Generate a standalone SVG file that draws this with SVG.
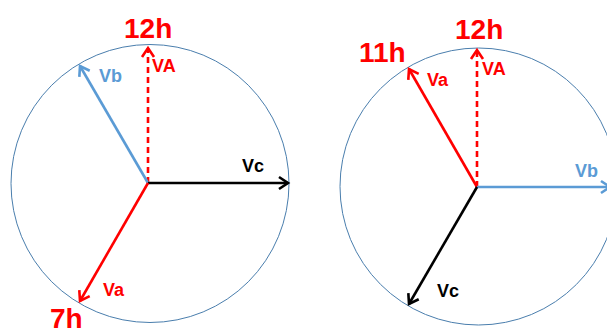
<svg xmlns="http://www.w3.org/2000/svg" width="607" height="335" viewBox="0 0 607 335">
<style>
.circ{fill:none;stroke:#4A7EAD;stroke-width:1}
.v{fill:none;stroke-width:2.6}
.red{stroke:#FF0000}
.blue{stroke:#5B9BD5}
.blk{stroke:#000}
.dash{stroke-dasharray:6 4}
text{font-family:"Liberation Sans",Arial,sans-serif;font-weight:bold}
.big{font-size:28px;fill:#FF0000}
.lbl{font-size:18px}
</style>
<defs>
<marker id="ar" markerUnits="userSpaceOnUse" markerWidth="20" markerHeight="20" viewBox="-12 -10 14 20" refX="0" refY="0" orient="auto"><path d="M-9,-6 L0,0 L-9,6" fill="none" stroke="#FF0000" stroke-width="2.6"/></marker>
<marker id="ab" markerUnits="userSpaceOnUse" markerWidth="20" markerHeight="20" viewBox="-12 -10 14 20" refX="0" refY="0" orient="auto"><path d="M-9,-6 L0,0 L-9,6" fill="none" stroke="#5B9BD5" stroke-width="2.6"/></marker>
<marker id="ak" markerUnits="userSpaceOnUse" markerWidth="20" markerHeight="20" viewBox="-12 -10 14 20" refX="0" refY="0" orient="auto"><path d="M-9,-6 L0,0 L-9,6" fill="none" stroke="#000" stroke-width="2.6"/></marker>
</defs>
<g id="left-diagram">
<circle class="circ" cx="150" cy="183.5" r="139"/>
</g>
<g id="right-diagram">
<circle class="circ" cx="478.5" cy="186.5" r="138.5"/>
</g>
<g id="connectors">
<line class="v red dash" x1="148" y1="183" x2="148" y2="48" marker-end="url(#ar)"/>
<line class="v blue" x1="148" y1="183" x2="80" y2="66" marker-end="url(#ab)"/>
<line class="v blk" x1="148" y1="183" x2="288" y2="183" marker-end="url(#ak)"/>
<line class="v red" x1="148" y1="183" x2="80" y2="301" marker-end="url(#ar)"/>
<line class="v red dash" x1="477" y1="187" x2="477" y2="50" marker-end="url(#ar)"/>
<line class="v red" x1="477" y1="187" x2="409" y2="69" marker-end="url(#ar)"/>
<line class="v blue" x1="477" y1="187" x2="610" y2="187" marker-end="url(#ab)"/>
<line class="v blk" x1="477" y1="187" x2="409" y2="304" marker-end="url(#ak)"/>
</g>
<g id="labels">
<text class="big" x="124" y="38">12h</text>
<text class="lbl" x="152" y="72" fill="#FF0000">VA</text>
<text class="lbl" x="99" y="82" fill="#5B9BD5">Vb</text>
<text class="lbl" x="242" y="172" fill="#000">Vc</text>
<text class="lbl" x="103" y="296" fill="#FF0000">Va</text>
<text class="big" x="50" y="328">7h</text>
<text class="big" x="455" y="39">12h</text>
<text class="big" x="359" y="62">11h</text>
<text class="lbl" x="482" y="75" fill="#FF0000">VA</text>
<text class="lbl" x="427" y="86" fill="#FF0000">Va</text>
<text class="lbl" x="575" y="177" fill="#5B9BD5">Vb</text>
<text class="lbl" x="437" y="297" fill="#000">Vc</text>
</g>
</svg>
